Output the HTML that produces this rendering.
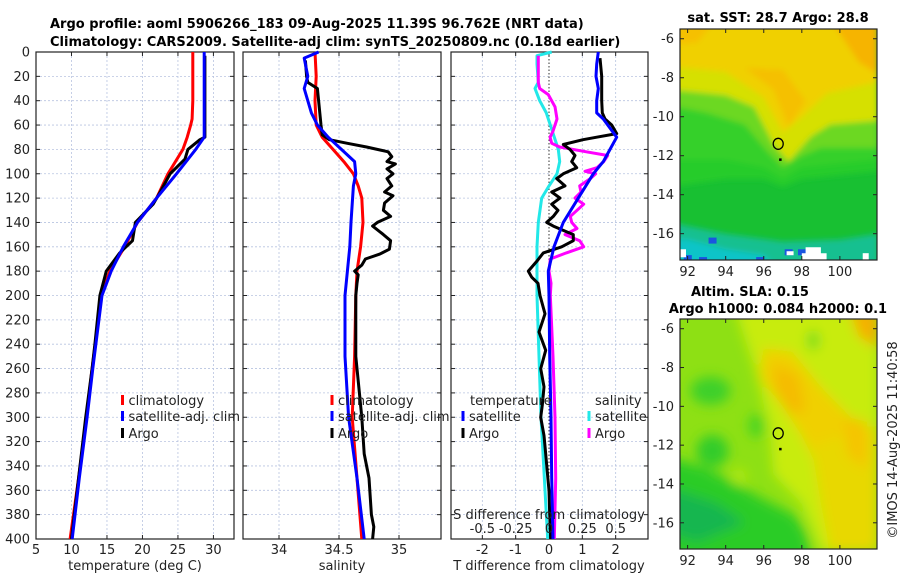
<!DOCTYPE html>
<html><head><meta charset="utf-8"><style>
html,body{margin:0;padding:0;background:#fff;}
svg{display:block;font-family:"DejaVu Sans","Liberation Sans",sans-serif;}
</style></head><body>
<svg id="fig" width="900" height="580" viewBox="0 0 900 580" xmlns="http://www.w3.org/2000/svg">
<defs>
<filter id="blur2" x="-20%" y="-20%" width="140%" height="140%"><feGaussianBlur stdDeviation="6"/></filter>
<filter id="blur1" x="-20%" y="-20%" width="140%" height="140%"><feGaussianBlur stdDeviation="3"/></filter>
<clipPath id="clipMap1"><rect x="680" y="29" width="197" height="231"/></clipPath>
<clipPath id="clipMap2"><rect x="680" y="319" width="197" height="230"/></clipPath>
</defs>
<g font-weight="bold" font-size="13" fill="#000">
<text x="50" y="28">Argo profile: aoml 5906266_183 09-Aug-2025 11.39S 96.762E (NRT data)</text>
<text x="50" y="46">Climatology: CARS2009. Satellite-adj clim: synTS_20250809.nc (0.18d earlier)</text>
</g>
<g id="maps"></g>
<g id="panels"></g>
<text x="0" y="0" transform="translate(897,440) rotate(-90)" text-anchor="middle" font-size="13" fill="#222">©IMOS 14-Aug-2025 11:40:58</text>
</svg>
<script>
// ---------- data ----------
const depthTicks=[0,20,40,60,80,100,120,140,160,180,200,220,240,260,280,300,320,340,360,380,400];
const tempTicks=[5,10,15,20,25,30];
const salTicks=[34,34.5,35];
const salTickLabels=["34","34.5","35"];
const tdiffTicks=[-2,-1,0,1,2];
const sdiffTicks=[-0.5,-0.25,0,0.25,0.5];
const sdiffTickLabels=["-0.5","-0.25","0","0.25","0.5"];

const tClimDepth=[0,20,40,55,60,70,80,100,120,140,160,180,200,260,300,350,400];
const tClimVal=[27.1,27.1,27.1,27.0,26.8,26.3,25.7,23.6,22.0,19.3,17.5,15.4,14.2,12.9,12.1,11.0,9.8];
const tSatDepth=[0,20,40,60,70,80,100,120,140,160,180,200,260,300,350,400];
const tSatVal=[28.7,28.7,28.7,28.7,28.7,27.5,24.8,22.0,19.3,17.3,15.6,14.3,13.0,12.2,11.1,10.1];
const tArgoDepth=[3,20,40,60,70,72,80,88,100,115,125,140,155,165,180,200,240,260,300,340,400];
const tArgoVal=[28.8,28.8,28.8,28.8,28.8,28.1,26.4,26.0,23.9,22.5,21.5,19.0,18.6,16.8,14.9,14.0,13.3,12.9,12.0,11.2,10.0];

const sClimDepth=[0,20,40,60,70,80,90,100,110,120,140,160,180,200,250,300,400];
const sClimVal=[34.30,34.31,34.30,34.31,34.36,34.45,34.54,34.62,34.66,34.69,34.70,34.68,34.65,34.64,34.63,34.61,34.69];
const sSatDepth=[0,5,20,30,50,60,70,80,90,100,110,140,160,180,200,250,300,350,400];
const sSatVal=[34.33,34.21,34.24,34.21,34.27,34.32,34.41,34.52,34.63,34.64,34.62,34.60,34.59,34.57,34.55,34.55,34.58,34.65,34.71];
const sArgoDepth=[7,20,25,30,40,50,60,68,72,75,78,82,86,90,92,96,100,104,110,115,118,124,130,135,140,143,150,155,162,166,170,175,180,183,190,200,250,300,330,350,380,390,400];
const sArgoVal=[34.22,34.23,34.24,34.32,34.33,34.34,34.35,34.36,34.42,34.57,34.73,34.91,34.94,34.90,34.97,34.90,34.95,34.90,34.94,34.88,34.95,34.88,34.87,34.93,34.82,34.78,34.87,34.93,34.92,34.84,34.72,34.69,34.63,34.66,34.65,34.64,34.64,34.69,34.71,34.75,34.77,34.79,34.78];

const dtSatDepth=[0,10,20,30,40,50,55,70,80,90,100,120,140,160,180,200,250,300,350,400];
const dtSatVal=[1.48,1.43,1.41,1.48,1.43,1.43,1.63,2.03,1.83,1.63,1.33,0.88,0.43,0.15,-0.02,0.0,0.02,0.06,0.08,0.12];
const dtArgoDepth=[5,20,40,50,55,60,67,70,72,76,80,85,90,95,100,104,110,115,120,125,130,135,140,143,150,155,160,165,172,180,185,190,200,215,230,245,260,275,290,300,315,330,345,360,380,400];
const dtArgoVal=[1.53,1.58,1.58,1.6,1.68,1.88,2.03,1.43,1.02,0.43,0.63,0.78,0.68,0.83,0.43,0.23,0.48,0.08,0.33,0.08,0.27,0.13,-0.07,0.13,0.73,0.73,0.38,-0.17,-0.37,-0.62,-0.52,-0.33,-0.27,-0.12,-0.3,-0.1,-0.25,-0.15,-0.2,-0.25,-0.15,-0.1,-0.05,0.0,0.02,0.05];
const dsSatDepth=[0,3,10,25,30,40,50,60,80,90,100,110,120,140,160,180,200,300,400];
const dsSatVal=[0.02,-0.09,-0.09,-0.08,-0.105,-0.07,-0.02,0.01,0.07,0.08,0.06,0.0,-0.055,-0.08,-0.09,-0.09,-0.09,-0.06,-0.01];
const dsArgoDepth=[3,10,25,30,35,45,55,65,70,75,78,82,85,90,95,98,100,104,110,115,120,125,130,135,140,145,150,155,160,165,170,180,190,200,250,300,350,400];
const dsArgoVal=[-0.08,-0.08,-0.08,-0.07,-0.005,0.045,0.06,0.03,0.008,0.02,0.08,0.28,0.44,0.41,0.36,0.27,0.35,0.31,0.23,0.24,0.195,0.26,0.21,0.16,0.17,0.21,0.12,0.23,0.26,0.13,0.01,0.0,0.015,0.01,0.03,0.045,0.05,0.04];

const lonTicks=[92,94,96,98,100];
const latTicks=[-6,-8,-10,-12,-14,-16];
const argoLon=[96.76];
const argoLat=[-11.39];

// ---------- helpers ----------
const NS="http://www.w3.org/2000/svg";
function mk(tag,attrs,parent){const e=document.createElementNS(NS,tag);for(const k in attrs)e.setAttribute(k,attrs[k]);parent.appendChild(e);return e;}
const Y0=52,Y1=539;
function yDepth(d){return Y0+(d/400)*(Y1-Y0);}
function scaleX(p,v){return p.x0+(v-p.min)/(p.max-p.min)*(p.x1-p.x0);}

const panelsG=document.getElementById('panels');
const P1={x0:36,x1:234,min:5,max:32.9};
const P2={x0:243,x1:441,min:33.7,max:35.35};
const P3={x0:451,x1:648,min:-2.94,max:2.97};
const P3s={x0:451,x1:648,min:-2.94/4,max:2.97/4};

function drawFrame(p,name,ticks,labels,gridVals,showY){
  const g=mk('g',{},panelsG);
  
  
  depthTicks.forEach(d=>{
    if(d===0||d===400)return;
    const l=mk('line',{x1:p.x0,x2:p.x1,y1:yDepth(d),y2:yDepth(d),stroke:'#b8c4e0','stroke-width':0.8,'stroke-dasharray':'2,2'},g);
    
    
  });
  gridVals.forEach(v=>{
    const x=scaleX(p,v);
    const l=mk('line',{x1:x,x2:x,y1:Y0,y2:Y1,stroke:'#b8c4e0','stroke-width':0.8,'stroke-dasharray':'2,2'},g);
    
    
  });
  depthTicks.forEach(d=>{
    const y=yDepth(d);
    mk('line',{x1:p.x0,x2:p.x0+4,y1:y,y2:y,stroke:'#222','stroke-width':1},g);
    mk('line',{x1:p.x1,x2:p.x1-4,y1:y,y2:y,stroke:'#222','stroke-width':1},g);
    if(showY){
      const t=mk('text',{x:p.x0-6,y:y+4.5,'text-anchor':'end','font-size':13,fill:'#222'},g);
      t.textContent=d;
      
      
    }
  });
  ticks.forEach((v,i)=>{
    const x=scaleX(p,v);
    mk('line',{x1:x,x2:x,y1:Y1,y2:Y1-4,stroke:'#222','stroke-width':1},g);
    mk('line',{x1:x,x2:x,y1:Y0,y2:Y0+4,stroke:'#222','stroke-width':1},g);
    const t=mk('text',{x:x,y:Y1+15,'text-anchor':'middle','font-size':13,fill:'#222'},g);
    t.textContent=labels[i];
    
    
  });
  const r=mk('rect',{x:p.x0,y:Y0,width:p.x1-p.x0,height:Y1-Y0,fill:'none',stroke:'#222','stroke-width':1.2},g);
  
  
  return g;
}
function drawLine(p,depths,vals,color,name,width){
  const pts=depths.map((d,i)=>scaleX(p,vals[i]).toFixed(1)+','+yDepth(d).toFixed(1)).join(' ');
  const l=mk('polyline',{points:pts,fill:'none',stroke:color,'stroke-width':width||3,'stroke-linejoin':'round'},panelsG);
  
  
}
function legendRow(x,y,color,label,name){
  const g=mk('g',{},panelsG);
  
  
  mk('line',{x1:x,x2:x,y1:y-10,y2:y,stroke:color,'stroke-width':3},g);
  if(label){const t=mk('text',{x:x+6,y:y,'font-size':13,fill:'#222'},g);t.textContent=label;}
}
function axisTitle(x,y,s,name){
  const t=mk('text',{x:x,y:y,'text-anchor':'middle','font-size':13,fill:'#222'},panelsG);
  t.textContent=s;
  
  
}

drawFrame(P1,'temperature-panel',tempTicks,tempTicks.map(String),[10,15,20,25,30],true);
drawLine(P1,tClimDepth,tClimVal,'#ff0000','temp-climatology-line');
drawLine(P1,tArgoDepth,tArgoVal,'#000000','temp-argo-line');
drawLine(P1,tSatDepth,tSatVal,'#0000ff','temp-satellite-line');
axisTitle(135,570,'temperature (deg C)','temperature-axis-title');
legendRow(122.5,405,'#ff0000','climatology','legend-climatology');
legendRow(122.5,421,'#0000ff','satellite-adj. clim','legend-satellite');
legendRow(122.5,438,'#000000','Argo','legend-argo');

drawFrame(P2,'salinity-panel',salTicks,salTickLabels,salTicks,false);
drawLine(P2,sClimDepth,sClimVal,'#ff0000','sal-climatology-line');
drawLine(P2,sArgoDepth,sArgoVal,'#000000','sal-argo-line');
drawLine(P2,sSatDepth,sSatVal,'#0000ff','sal-satellite-line');
axisTitle(342,570,'salinity','salinity-axis-title');
legendRow(332,405,'#ff0000','climatology','legend-sal-climatology');
legendRow(332,421,'#0000ff','satellite-adj. clim','legend-sal-satellite');
legendRow(332,438,'#000000','Argo','legend-sal-argo');

drawFrame(P3,'difference-panel',tdiffTicks,tdiffTicks.map(String),tdiffTicks.filter(v=>v!==0),false);
{
  const x=scaleX(P3,0);
  const z=mk('line',{x1:x,x2:x,y1:Y0,y2:Y1,stroke:'#333','stroke-width':1,'stroke-dasharray':'1.5,2'},panelsG);
  
  
}
drawLine(P3s,dsSatDepth,dsSatVal,'#22e8e8','sdiff-satellite-line');
drawLine(P3s,dsArgoDepth,dsArgoVal,'#ff00ff','sdiff-argo-line');
drawLine(P3,dtArgoDepth,dtArgoVal,'#000000','tdiff-argo-line');
drawLine(P3,dtSatDepth,dtSatVal,'#0000ff','tdiff-satellite-line');
axisTitle(549,570,'T difference from climatology','tdiff-axis-title');
axisTitle(549,519,'S difference from climatology','sdiff-axis-title');
sdiffTicks.forEach((v,i)=>{
  const t=mk('text',{x:scaleX(P3s,v),y:533,'text-anchor':'middle','font-size':13,fill:'#222'},panelsG);
  t.textContent=sdiffTickLabels[i];
  
  
});
{
  const t1=mk('text',{x:470,y:405,'font-size':13,fill:'#222'},panelsG);t1.textContent='temperature';
  
  
  const t2=mk('text',{x:595,y:405,'font-size':13,fill:'#222'},panelsG);t2.textContent='salinity';
  
  
}
legendRow(463,421,'#0000ff','satellite','legend-tdiff-satellite');
legendRow(463,438,'#000000','Argo','legend-tdiff-argo');
legendRow(589,421,'#22e8e8','satellite','legend-sdiff-satellite');
legendRow(589,438,'#ff00ff','Argo','legend-sdiff-argo');

// ---------- maps ----------
const mapsG=document.getElementById('maps');
const M1={x0:680,x1:877,y0:29,y1:260,lon0:91.6,lon1:101.95,lat0:-5.5,lat1:-17.35};
const M2={x0:680,x1:877,y0:319,y1:549,lon0:91.6,lon1:101.95,lat0:-5.5,lat1:-17.35};
function lx(M,lon){return M.x0+(lon-M.lon0)/(M.lon1-M.lon0)*(M.x1-M.x0);}
function ly(M,lat){return M.y0+(lat-M.lat0)/(M.lat1-M.lat0)*(M.y1-M.y0);}
function P(M,pts){return pts.map(p=>lx(M,p[0]).toFixed(1)+','+ly(M,p[1]).toFixed(1)).join(' ');}

// Map 1: SST
{
  const g=mk('g',{},mapsG);
  
  
  const f=mk('g',{'clip-path':'url(#clipMap1)'},g);
  
  
  mk('rect',{x:680,y:29,width:197,height:231,fill:'#18c032'},f);
  const b=mk('g',{filter:'url(#blur1)'},f);
  mk('polygon',{points:P(M1,[[91,-13.6],[94,-13.2],[96,-13.2],[97,-13.6],[98,-13.2],[102,-12.8],[102,-5],[91,-5]]),fill:'#26cc2a'},b);
  mk('polygon',{points:P(M1,[[91,-12.2],[94,-12.2],[96,-12.6],[97,-13.2],[98,-12.6],[102,-12.2],[102,-5],[91,-5]]),fill:'#34d02a'},b);
  mk('polygon',{points:P(M1,[[91,-9.4],[93,-9.8],[95,-10.4],[96.2,-11.8],[97,-12.6],[98,-12.0],[99,-11.6],[102,-11.6],[102,-5],[91,-5]]),fill:'#6cd820'},b);
  mk('polygon',{points:P(M1,[[91,-8.6],[94,-8.9],[95.5,-9.5],[96.5,-11.4],[97.3,-12.3],[98.5,-11.0],[99.5,-10.4],[102,-10.2],[102,-5],[91,-5]]),fill:'#d6e000'},b);
  mk('polygon',{points:P(M1,[[91,-7.4],[94,-7.7],[96,-9],[97,-10.8],[98,-10],[99.3,-8.8],[102,-8.2],[102,-5],[91,-5]]),fill:'#f0d000'},b);
  mk('polygon',{points:P(M1,[[95,-7.5],[96.5,-8.6],[97.3,-10.5],[98.2,-9.2],[97,-7.6]]),fill:'#f5c000'},b);
  mk('polygon',{points:P(M1,[[99.5,-5],[102,-5],[102,-7.8],[101,-7.2]]),fill:'#f6b400'},b);
  mk('polygon',{points:P(M1,[[91,-5],[93.5,-5],[92.5,-6.2],[91,-6.3]]),fill:'#f6c000'},b);
  mk('polygon',{points:P(M1,[[91,-15.4],[94,-16.0],[97,-16.4],[100,-16.3],[102,-16.0],[102,-18],[91,-18]]),fill:'#14c090'},b);
  mk('polygon',{points:P(M1,[[91,-16.3],[92,-16.3],[94,-16.8],[96,-17.1],[97,-18],[91,-18]]),fill:'#10c4c8'},b);
  [[93.1,-16.2],[91.8,-17.1],[95.6,-17.2],[97.1,-16.8],[97.8,-16.8],[92.6,-17.2]].forEach(c=>{
    mk('rect',{x:lx(M1,c[0]),y:ly(M1,c[1]),width:8,height:6,fill:'#1a55e0'},f);
  });
  mk('polygon',{points:P(M1,[[98.2,-16.7],[99.0,-16.7],[99.0,-17.0],[99.3,-17.0],[99.3,-17.5],[98.0,-17.5],[98.0,-17.0],[98.2,-17.0]]),fill:'#ffffff'},f);
  mk('rect',{x:lx(M1,97.2),y:ly(M1,-16.9),width:7,height:4,fill:'#ffffff'},f);
  mk('rect',{x:lx(M1,101.2),y:ly(M1,-17.0),width:6,height:8,fill:'#ffffff'},f);
  mk('rect',{x:680,y:ly(M1,-16.8),width:6,height:8,fill:'#ffffff'},f);
}
// Map 2: SLA
{
  const g=mk('g',{},mapsG);
  
  
  const f=mk('g',{'clip-path':'url(#clipMap2)'},g);
  
  
  mk('rect',{x:680,y:319,width:197,height:230,fill:'#8ee014'},f);
  const b=mk('g',{filter:'url(#blur2)'},f);
  mk('polygon',{points:P(M2,[[94.5,-5],[102,-5],[102,-17.5],[99,-17.5],[98,-15],[96.5,-13.5],[96.3,-11],[95.5,-8]]),fill:'#c8ec0c'},b);
  mk('polygon',{points:P(M2,[[96,-7],[97.5,-7.2],[99,-9],[101,-11],[101.5,-13.5],[100.5,-14.5],[99,-13.5],[98,-11.5],[97,-10],[95.8,-8.5]]),fill:'#f0d000'},b);
  mk('polygon',{points:P(M2,[[98.5,-12],[102,-11],[102,-17.5],[99.5,-17.5],[99,-15]]),fill:'#e8d800'},b);
  mk('polygon',{points:P(M2,[[96.5,-7.8],[97.8,-8.4],[98.2,-10.2],[97.4,-10.4],[96.6,-9.2]]),fill:'#f5bc00'},b);
  mk('polygon',{points:P(M2,[[100.2,-10.5],[101.4,-10.8],[101.4,-13.2],[100.4,-12.5]]),fill:'#f5c400'},b);
  mk('polygon',{points:P(M2,[[100.5,-5],[102,-5],[102,-7],[101,-6.4]]),fill:'#f5b000'},b);
  mk('polygon',{points:P(M2,[[91,-12.6],[93,-13.2],[94.5,-14.0],[96,-14.8],[97.6,-15.6],[98.2,-16.5],[98.6,-18],[91,-18]]),fill:'#2ccc28'},b);
  mk('polygon',{points:P(M2,[[91,-14.2],[93.5,-15],[95,-16],[92.5,-17],[91,-16.5]]),fill:'#18b650'},b);
  mk('ellipse',{cx:lx(M2,93.2),cy:ly(M2,-9.2),rx:20,ry:14,fill:'#3ed02a'},b);
  mk('ellipse',{cx:lx(M2,93.3),cy:ly(M2,-12.3),rx:16,ry:16,fill:'#30cc2a'},b);
  mk('ellipse',{cx:lx(M2,95.6),cy:ly(M2,-11),rx:8,ry:12,fill:'#48d420'},b);
  mk('ellipse',{cx:lx(M2,98.6),cy:ly(M2,-6.6),rx:6,ry:10,fill:'#70dc1c'},b);
  mk('ellipse',{cx:lx(M2,94.7),cy:ly(M2,-13.6),rx:7,ry:7,fill:'#b8ea10'},b);
}
[[M1,'sst'],[M2,'sla']].forEach(([M,n])=>{
  const g=mk('g',{},mapsG);
  
  
  mk('rect',{x:M.x0,y:M.y0,width:M.x1-M.x0,height:M.y1-M.y0,fill:'none',stroke:'#222','stroke-width':1.2},g);
  lonTicks.forEach(v=>{
    const x=lx(M,v);
    mk('line',{x1:x,x2:x,y1:M.y1,y2:M.y1-4,stroke:'#222'},g);
    mk('line',{x1:x,x2:x,y1:M.y0,y2:M.y0+4,stroke:'#222'},g);
    const t=mk('text',{x:x,y:M.y1+16,'text-anchor':'middle','font-size':13,fill:'#222'},g);
    t.textContent=v;
    
    
  });
  latTicks.forEach(v=>{
    const y=ly(M,v);
    mk('line',{x1:M.x0,x2:M.x0+4,y1:y,y2:y,stroke:'#222'},g);
    mk('line',{x1:M.x1,x2:M.x1-4,y1:y,y2:y,stroke:'#222'},g);
    const t=mk('text',{x:M.x0-6,y:y+4.5,'text-anchor':'end','font-size':13,fill:'#222'},g);
    t.textContent=v;
    
    
  });
  argoLon.forEach((lon,i)=>{
    const c=mk('ellipse',{cx:lx(M,lon),cy:ly(M,argoLat[i]),rx:5,ry:5.5,fill:'none',stroke:'#000','stroke-width':1.3},g);
    
    
    mk('rect',{x:lx(M,lon+0.1)-1,y:ly(M,argoLat[i]-0.8)-1,width:2.5,height:2.5,fill:'#000'},g);
  });
});
{
  const t=mk('text',{x:778,y:22,'text-anchor':'middle','font-size':13,'font-weight':'bold',fill:'#000'},mapsG);
  t.textContent='sat. SST: 28.7 Argo: 28.8';
  
  
  const t2=mk('text',{x:750,y:296,'text-anchor':'middle','font-size':13,'font-weight':'bold',fill:'#000'},mapsG);
  t2.textContent='Altim. SLA: 0.15';
  
  
  const t3=mk('text',{x:778,y:313,'text-anchor':'middle','font-size':13,'font-weight':'bold',fill:'#000'},mapsG);
  t3.textContent='Argo h1000: 0.084 h2000: 0.1';
  
  
}
</script>
</body></html>
